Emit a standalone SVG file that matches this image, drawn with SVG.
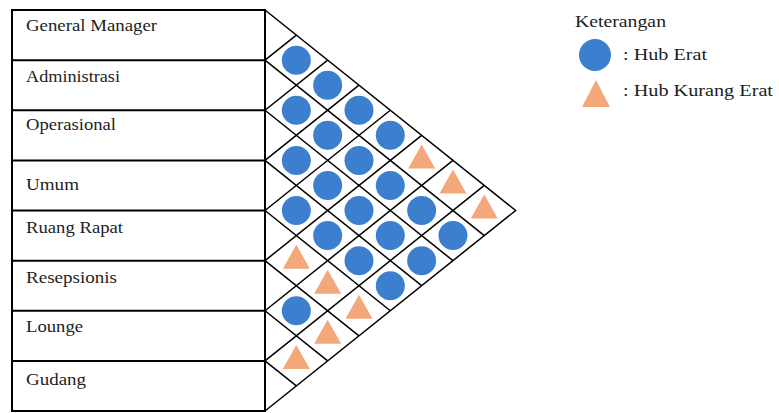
<svg xmlns="http://www.w3.org/2000/svg" width="779" height="413" viewBox="0 0 779 413">
<style>
text{font-family:"Liberation Serif","Times New Roman","DejaVu Serif",serif;font-size:17px;fill:#1e1e1e}
.tbl{fill:none;stroke:#000;stroke-width:2}
.grid{fill:none;stroke:#000;stroke-width:1.5}
.c{fill:#3b7fce}
.t{fill:#f5a77c}
</style>
<defs>
<circle id="C" class="c" cx="0" cy="0" r="14.5"/>
<path id="T" class="t" d="M0,-16 L13.5,8 L-13.5,8 Z"/>
</defs>
<rect width="779" height="413" fill="#fff"/>
<g id="table">
<rect class="tbl" x="12" y="10" width="253" height="401"/>
<path class="tbl" d="M12,60.13H265M12,110.25H265M12,160.38H265M12,210.5H265M12,260.63H265M12,310.75H265M12,360.88H265"/>
</g>
<g id="n-general-manager"><text x="26" y="31" textLength="131" lengthAdjust="spacingAndGlyphs">General Manager</text></g>
<g id="n-administrasi"><text x="26" y="82" textLength="94" lengthAdjust="spacingAndGlyphs">Administrasi</text></g>
<g id="n-operasional"><text x="26" y="130" textLength="90" lengthAdjust="spacingAndGlyphs">Operasional</text></g>
<g id="n-umum"><text x="26" y="190" textLength="53" lengthAdjust="spacingAndGlyphs">Umum</text></g>
<g id="n-ruang-rapat"><text x="26" y="233" textLength="97" lengthAdjust="spacingAndGlyphs">Ruang Rapat</text></g>
<g id="n-resepsionis"><text x="26" y="283" textLength="91" lengthAdjust="spacingAndGlyphs">Resepsionis</text></g>
<g id="n-lounge"><text x="26" y="332" textLength="57" lengthAdjust="spacingAndGlyphs">Lounge</text></g>
<g id="n-gudang"><text x="26" y="385" textLength="60" lengthAdjust="spacingAndGlyphs">Gudang</text></g>
<g id="connectors">
<path class="grid" d="M265,10L515.62,210.5L265,411
M265,60.13L296.33,35.06 M265,110.25L327.66,60.13 M265,160.38L358.99,85.19 M265,210.5L390.31,110.25 M265,260.63L421.64,135.31 M265,310.75L452.97,160.38 M265,360.88L484.3,185.44
M265,60.13L484.3,235.56 M265,110.25L452.97,260.63 M265,160.38L421.64,285.69 M265,210.5L390.31,310.75 M265,260.63L358.99,335.81 M265,310.75L327.66,360.88 M265,360.88L296.33,385.94"/>
</g>
<g id="symbols">
<use href="#C" x="296.33" y="60.13"/>
<use href="#C" x="296.33" y="110.25"/>
<use href="#C" x="296.33" y="160.38"/>
<use href="#C" x="296.33" y="210.5"/>
<use href="#T" x="296.33" y="260.63"/>
<use href="#C" x="296.33" y="310.75"/>
<use href="#T" x="296.33" y="360.88"/>
<use href="#C" x="327.66" y="85.19"/>
<use href="#C" x="327.66" y="135.31"/>
<use href="#C" x="327.66" y="185.44"/>
<use href="#C" x="327.66" y="235.56"/>
<use href="#T" x="327.66" y="285.69"/>
<use href="#T" x="327.66" y="335.81"/>
<use href="#C" x="358.99" y="110.25"/>
<use href="#C" x="358.99" y="160.38"/>
<use href="#C" x="358.99" y="210.5"/>
<use href="#C" x="358.99" y="260.63"/>
<use href="#T" x="358.99" y="310.75"/>
<use href="#C" x="390.31" y="135.31"/>
<use href="#C" x="390.31" y="185.44"/>
<use href="#C" x="390.31" y="235.56"/>
<use href="#C" x="390.31" y="285.69"/>
<use href="#T" x="421.64" y="160.38"/>
<use href="#C" x="421.64" y="210.5"/>
<use href="#C" x="421.64" y="260.63"/>
<use href="#T" x="452.97" y="185.44"/>
<use href="#C" x="452.97" y="235.56"/>
<use href="#T" x="484.3" y="210.5"/>
</g>
<g id="legend">
<text x="575" y="27" textLength="91" lengthAdjust="spacingAndGlyphs">Keterangan</text>
<circle class="c" cx="595" cy="55" r="16"/>
<text x="623" y="60" textLength="84" lengthAdjust="spacingAndGlyphs">: Hub Erat</text>
<path class="t" d="M596,80L610,107L582,107Z"/>
<text x="623" y="96" textLength="150" lengthAdjust="spacingAndGlyphs">: Hub Kurang Erat</text>
</g>
</svg>
